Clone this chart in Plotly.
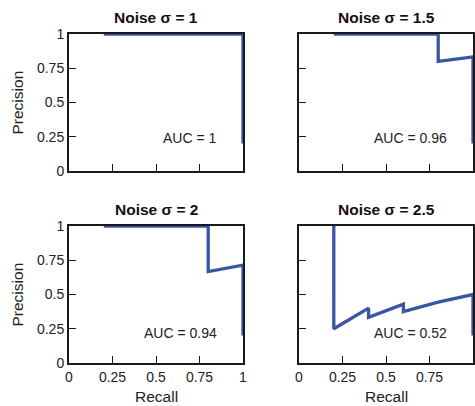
import plotly.graph_objects as go

# ---- data ----
titles = ["Noise σ = 1", "Noise σ = 1.5", "Noise σ = 2", "Noise σ = 2.5"]
auc_labels = ["AUC = 1", "AUC = 0.96", "AUC = 0.94", "AUC = 0.52"]

recall_1 = [0.2, 1.0, 1.0]
precision_1 = [1.0, 1.0, 0.2]

recall_15 = [0.2, 0.8, 0.8, 1.0, 1.0]
precision_15 = [1.0, 1.0, 0.8, 0.833, 0.2]

recall_2 = [0.2, 0.8, 0.8, 1.0, 1.0]
precision_2 = [1.0, 1.0, 0.667, 0.714, 0.2]

recall_25 = [0.2, 0.2, 0.4, 0.4, 0.6, 0.6, 0.8, 1.0, 1.0]
precision_25 = [1.0, 0.25, 0.4, 0.333, 0.429, 0.375, 0.444, 0.5, 0.2]

tick_vals = [0, 0.25, 0.5, 0.75, 1]
tick_text = ["0", "0.25", "0.5", "0.75", "1"]

series = [(recall_1, precision_1), (recall_15, precision_15),
          (recall_2, precision_2), (recall_25, precision_25)]

# ---- layout geometry (pixels) ----
W, H = 475, 406
col_px = [(69, 243), (299, 473)]
row_px = [(34, 171), (226, 363)]
FONT = "Liberation Sans, Arial, Helvetica, sans-serif"
LINE_COLOR = "#3b55a5"
FRAME = "#1a1a1a"

fig = go.Figure()
annotations = []
auc_y = [0.24, 0.24, 0.22, 0.22]

for i, (rx, py) in enumerate(series):
    r, c = divmod(i, 2)
    n = "" if i == 0 else str(i + 1)
    xa, ya = "x" + n, "y" + n
    fig.add_trace(go.Scatter(x=rx, y=py, mode="lines", xaxis=xa, yaxis=ya,
                             line=dict(color=LINE_COLOR, width=3.3),
                             showlegend=False, hoverinfo="skip"))
    x0, x1 = col_px[c]
    y0, y1 = row_px[r]
    xdom = [x0 / W, x1 / W]
    ydom = [1 - y1 / H, 1 - y0 / H]
    axis_common = dict(range=[0, 1], tickmode="array", tickvals=tick_vals,
                       ticktext=tick_text, ticks="inside", ticklen=7,
                       tickwidth=1.3, tickcolor=FRAME, showline=True,
                       linecolor=FRAME, linewidth=2, mirror=True,
                       showgrid=False, zeroline=False, automargin=False,
                       tickfont=dict(family=FONT, size=14, color="#222"))
    fig.update_layout(**{
        ("xaxis" + n): dict(domain=xdom, anchor=ya,
                            showticklabels=(r == 1), **axis_common),
        ("yaxis" + n): dict(domain=ydom, anchor=xa,
                            showticklabels=(c == 0), **axis_common),
    })
    # panel title
    annotations.append(dict(text="<b>" + titles[i] + "</b>", xref="paper", yref="paper",
                            x=(x0 + x1) / 2 / W, y=1 - (y0 - 17) / H, xanchor="center",
                            yanchor="middle", showarrow=False,
                            font=dict(family=FONT, size=15.5, color="#111")))
    # AUC label
    annotations.append(dict(text=auc_labels[i], xref=xa, yref=ya, x=0.86, y=auc_y[i],
                            xanchor="right", yanchor="middle", showarrow=False,
                            font=dict(family=FONT, size=14, color="#222")))

# axis titles
for r in range(2):
    y0, y1 = row_px[r]
    annotations.append(dict(text="Precision", xref="paper", yref="paper",
                            x=17 / W, y=1 - (y0 + y1) / 2 / H, textangle=-90,
                            xanchor="center", yanchor="middle", showarrow=False,
                            font=dict(family=FONT, size=15.5, color="#222")))
for c in range(2):
    x0, x1 = col_px[c]
    annotations.append(dict(text="Recall", xref="paper", yref="paper",
                            x=(x0 + x1) / 2 / W, y=1 - 396 / H,
                            xanchor="center", yanchor="middle", showarrow=False,
                            font=dict(family=FONT, size=15.5, color="#222")))

fig.update_layout(width=W, height=H, margin=dict(l=0, r=0, t=0, b=0, autoexpand=False),
                  paper_bgcolor="white", plot_bgcolor="white",
                  annotations=annotations, font=dict(family=FONT))

fig.write_html("out.html", config={"displayModeBar": False},
               post_script="document.body.style.margin='0';document.body.style.overflow='hidden';")
